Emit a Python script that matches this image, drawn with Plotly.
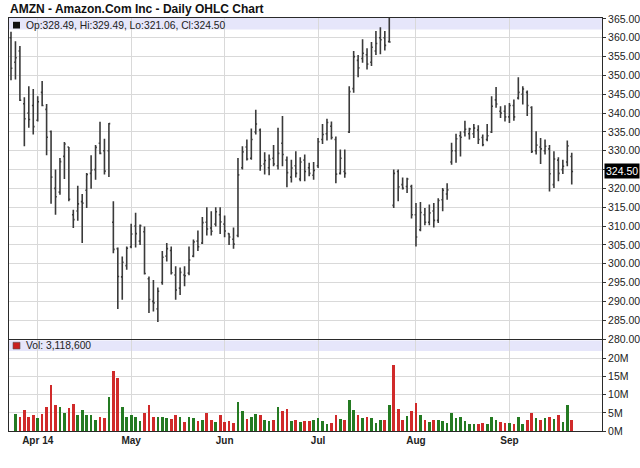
import pandas as pd
import plotly.graph_objects as go
from plotly.subplots import make_subplots

# ---------------- data ----------------
holidays = ["2014-04-18", "2014-05-26", "2014-07-04", "2014-09-01"]
dates = [d.strftime("%Y-%m-%d") for d in pd.bdate_range("2014-03-24", "2014-09-22")
         if d.strftime("%Y-%m-%d") not in holidays]

opens = [360.0, 353.5, 356.5, 342.5, 340.0, 342.0, 338.1, 345.5, 341.0, 335.1,
         320.0, 319.0, 328.5, 331.0, 313.0, 314.0, 316.5, 319.5, 324.0, 325.0,
         332.0, 330.0, 330.0, 311.0, 304.0, 296.5, 299.5, 304.5, 310.0, 306.0,
         308.5, 296.0, 290.0, 288.0, 295.0, 302.0, 303.5, 297.0, 293.5, 297.0,
         297.5, 302.0, 306.0, 305.5, 311.0, 309.5, 310.5, 313.0, 310.5, 308.0,
         306.5, 307.5, 325.5, 331.0, 328.0, 335.0, 335.5, 326.5, 325.5, 328.0,
         326.0, 332.0, 327.5, 323.0, 326.0, 322.5, 327.5, 325.5, 323.5, 326.0,
         333.0, 334.5, 336.5, 333.0, 324.0, 324.5, 335.0, 346.5, 354.0, 354.5,
         355.5, 353.5, 356.5, 360.0, 360.0, 359.0, 315.5, 324.5, 321.0, 320.5,
         320.5, 313.0, 309.0, 313.0, 311.0, 314.0, 311.5, 317.0, 318.5, 327.0,
         330.0, 334.0, 335.0, 334.5, 334.5, 335.5, 333.5, 333.0, 335.0, 343.5,
         340.5, 340.5, 339.0, 342.0, 344.0, 345.0, 345.5, 341.5, 330.0, 331.0,
         330.0, 330.5, 321.0, 327.5, 325.0, 327.0, 328.49]
highs = [361.6, 359.1, 357.8, 344.2, 347.1, 346.4, 344.5, 348.5, 342.4, 335.4,
         325.0, 328.1, 332.3, 331.0, 314.3, 320.7, 318.5, 324.1, 328.8, 331.5,
         337.7, 333.2, 337.4, 316.6, 304.3, 301.9, 304.6, 310.6, 313.5, 310.4,
         309.9, 296.6, 295.7, 293.7, 303.4, 305.5, 304.6, 299.3, 299.0, 299.3,
         304.6, 306.4, 308.8, 312.4, 315.0, 313.9, 315.0, 315.0, 312.8, 308.1,
         309.6, 328.1, 331.2, 333.0, 335.9, 340.9, 335.9, 329.6, 329.0, 331.5,
         336.1, 339.2, 328.5, 327.6, 329.9, 328.3, 329.0, 326.8, 327.0, 333.4,
         337.1, 338.5, 337.8, 333.8, 330.3, 330.3, 347.1, 356.5, 355.4, 359.6,
         357.2, 358.9, 361.8, 362.8, 361.8, 366.0, 325.0, 325.0, 322.9, 322.8,
         321.0, 316.1, 316.4, 314.8, 315.7, 316.1, 317.4, 320.1, 321.4, 332.1,
         334.5, 335.2, 338.0, 336.1, 337.1, 336.8, 334.3, 337.1, 344.5, 346.9,
         341.8, 342.1, 342.7, 343.6, 349.5, 347.1, 346.0, 341.8, 335.2, 333.4,
         333.0, 331.5, 329.9, 328.3, 327.6, 332.7, 329.49]
lows = [348.7, 348.9, 343.2, 331.2, 336.1, 334.3, 337.8, 341.8, 328.8, 315.9,
        313.0, 318.3, 322.5, 316.6, 309.5, 311.4, 305.5, 314.8, 319.9, 322.3,
        329.1, 323.7, 323.0, 302.8, 288.0, 290.4, 298.4, 304.1, 304.3, 305.0,
        297.1, 286.9, 287.3, 284.5, 294.4, 300.6, 297.1, 290.4, 291.7, 294.0,
        296.9, 301.7, 303.4, 305.2, 307.5, 307.5, 309.9, 307.9, 307.0, 305.0,
        304.0, 307.0, 325.0, 327.4, 327.6, 334.3, 324.7, 323.7, 323.5, 325.9,
        325.0, 325.9, 320.3, 321.6, 322.9, 321.9, 321.9, 323.2, 322.3, 325.4,
        331.8, 332.7, 333.0, 321.4, 323.7, 322.8, 334.7, 345.4, 349.5, 353.4,
        351.6, 352.5, 355.4, 355.6, 356.6, 358.7, 314.8, 316.6, 319.7, 318.8,
        312.0, 304.6, 308.6, 310.2, 310.2, 309.6, 310.8, 313.9, 317.0, 326.3,
        326.8, 328.5, 333.8, 333.0, 333.4, 331.8, 331.2, 332.5, 334.7, 341.4,
        338.7, 337.8, 337.4, 338.0, 343.6, 342.3, 339.2, 329.4, 329.0, 326.5,
        329.0, 319.2, 320.1, 321.9, 323.8, 325.9, 321.06]
closes = [351.9, 354.7, 343.4, 338.5, 338.3, 336.4, 343.0, 342.0, 333.6, 323.0,
          317.8, 327.1, 331.8, 317.1, 311.7, 315.9, 316.1, 323.7, 324.9, 330.9,
          329.3, 324.6, 337.2, 303.8, 296.6, 300.4, 304.1, 307.9, 308.0, 310.1,
          297.4, 290.5, 289.6, 292.7, 301.7, 304.0, 297.6, 293.0, 297.7, 296.8,
          301.0, 305.8, 304.5, 310.9, 309.2, 308.6, 313.8, 311.1, 308.7, 307.1,
          305.2, 323.6, 329.7, 327.8, 333.0, 337.1, 326.0, 327.4, 327.7, 326.5,
          329.3, 329.0, 324.2, 325.4, 324.0, 327.0, 324.5, 324.0, 324.8, 332.4,
          334.3, 337.5, 333.5, 323.8, 328.0, 324.0, 345.7, 355.0, 352.0, 355.9,
          353.0, 357.5, 358.5, 359.5, 358.0, 358.9, 324.0, 320.4, 320.0, 322.5,
          313.0, 307.1, 313.6, 311.0, 313.5, 311.5, 316.8, 319.5, 319.6, 330.0,
          333.2, 333.6, 335.7, 335.8, 336.0, 333.0, 331.6, 334.0, 341.8, 342.4,
          340.0, 339.0, 342.0, 339.0, 345.5, 346.4, 342.0, 329.8, 331.5, 330.5,
          331.2, 323.9, 327.8, 324.0, 325.9, 331.3, 324.50]
volume_m = [None, 4.6, 4.0, 5.9, 4.0, 4.3, 3.7, 4.6, 6.6, 12.6,
            7.1, 6.6, 5.1, 6.4, 7.4, 4.3, 5.7, 4.3, 4.3, 3.1,
            3.8, 3.7, 9.4, 16.5, 14.6, 6.6, 4.0, 4.3, 4.0, 2.7,
            5.0, 7.1, 3.8, 4.0, 3.8, 3.6, 3.4, 4.3, 3.8, 2.5,
            4.0, 3.7, 2.8, 3.1, 5.0, 2.9, 2.4, 4.3, 2.5, 2.7,
            2.2, 8.0, 5.5, 3.4, 3.8, 4.6, 4.3, 2.9, 2.8, 3.1,
            6.6, 5.5, 6.2, 2.8, 2.9, 2.4, 2.8, 2.8, 2.9, 3.7,
            2.8, 2.0, 2.3, 4.3, 3.4, 2.9, 8.6, 5.7, 4.3, 3.6,
            3.8, 3.6, 2.3, 3.1, 2.9, 7.1, 18.1, 6.2, 3.1, 4.1,
            5.5, 7.7, 4.3, 2.9, 2.5, 3.1, 2.9, 2.7, 2.2, 5.1,
            3.7, 4.0, 2.7, 1.9, 1.9, 2.0, 2.3, 2.0, 3.8, 3.1,
            2.5, 2.2, 2.3, 2.0, 4.0, 2.0, 3.1, 5.0, 3.7, 2.9,
            3.6, 4.0, 3.4, 4.3, 2.5, 7.1, 3.1186]
month_labels = ["Apr 14", "May", "Jun", "Jul", "Aug", "Sep"]
price_ticks = list(range(280, 366, 5))
vol_ticks_m = [0, 5, 10, 15, 20]
last_volume_text = "3,118,600"

# ---------------- derived ----------------
volume = [None if v is None else v * 1e6 for v in volume_m]
UP, DOWN = "#247a22", "#d02a2a"
vol_colors = [UP] + [UP if closes[i] >= closes[i - 1] else DOWN for i in range(1, len(closes))]
month_ticks = []
seen = set()
for d in dates:
    m = d[:7]
    if m not in seen:
        seen.add(m)
        if m != "2014-03":
            month_ticks.append(d)
last_close = closes[-1]
# the last-close marker box covers the nearest price label
price_ticktext = ["" if abs(v - last_close) < 2.5 else f"{v:.2f}" for v in price_ticks]

FONT = "Liberation Sans, Arial, sans-serif"
W, H = 640, 468
L, R, T, B = 9, 38, 18, 37
plot_h = H - T - B  # 413
plot_w = W - L - R  # 593

def py(pix):  # pixel y -> paper y
    return (H - B - pix) / plot_h

def px(pix):  # pixel x -> paper x
    return (pix - L) / plot_w

fig = make_subplots(rows=2, cols=1, shared_xaxes=True, vertical_spacing=0)

fig.add_trace(go.Ohlc(x=dates, open=opens, high=highs, low=lows, close=closes,
                      increasing=dict(line=dict(color="#3a3a3a", width=1.6)),
                      decreasing=dict(line=dict(color="#3a3a3a", width=1.6)),
                      tickwidth=0.3, showlegend=False, hoverinfo="skip"),
              row=1, col=1)
fig.add_trace(go.Bar(x=dates, y=volume, marker=dict(color=vol_colors, line=dict(width=0)),
                     width=0.6, showlegend=False, hoverinfo="skip"),
              row=2, col=1)

n = len(dates)
xr = [-0.45, n + 5.8]
axis_common = dict(showline=True, mirror=True, linecolor="#2a2a2a", linewidth=1,
                   gridcolor="#d9d9d9", gridwidth=1, zeroline=False, automargin=False)
fig.update_xaxes(type="category", range=xr, tickmode="array", tickvals=month_ticks,
                 ticktext=[f"<b>{t}</b>" for t in month_labels], showgrid=True, ticks="",
                 rangeslider_visible=False, **axis_common)
fig.update_xaxes(showticklabels=False, row=1, col=1)
fig.update_xaxes(tickfont=dict(family=FONT, size=10, color="#222"), row=2, col=1)

fig.update_yaxes(side="right", ticks="outside", ticklen=3, tickcolor="#333",
                 tickfont=dict(family=FONT, size=10.5, color="#222"), showgrid=True,
                 **axis_common)
fig.update_yaxes(domain=[py(339), 1.0], range=[280, 280 + 321 / 3.765],
                 tickmode="array", tickvals=price_ticks,
                 ticktext=price_ticktext, row=1, col=1)
fig.update_yaxes(domain=[0.0, py(340)], range=[0, 25.1e6],
                 tickmode="array", tickvals=[v * 1e6 for v in vol_ticks_m],
                 ticktext=[f"{v}M" for v in vol_ticks_m], row=2, col=1)

shapes = [
    dict(type="rect", xref="paper", yref="paper", x0=0, x1=1, y0=py(29.5), y1=1.0,
         fillcolor="#e6e6fa", line=dict(width=0), layer="below"),
    dict(type="rect", xref="paper", yref="paper", x0=0, x1=1, y0=py(351), y1=py(340.5),
         fillcolor="#e6e6fa", line=dict(width=0), layer="below"),
    dict(type="rect", xref="paper", yref="paper", x0=px(13), x1=px(20), y0=py(28.5), y1=py(21.8),
         fillcolor="#111111", line=dict(width=0)),
    dict(type="rect", xref="paper", yref="paper", x0=px(13), x1=px(20), y0=py(349), y1=py(342.3),
         fillcolor="#c8201e", line=dict(width=0.6, color="#555")),
]

ohlc_text = f"Op:{opens[-1]:.2f}, Hi:{highs[-1]:.2f}, Lo:{lows[-1]:.2f}, Cl:{closes[-1]:.2f}"
annotations = [
    dict(text=ohlc_text, xref="paper", yref="paper", x=px(23.5), y=py(25.3),
         xanchor="left", yanchor="middle", showarrow=False,
         font=dict(family=FONT, size=10.3, color="#222")),
    dict(text=f"Vol: {last_volume_text}", xref="paper", yref="paper", x=px(23.5), y=py(345.8),
         xanchor="left", yanchor="middle", showarrow=False,
         font=dict(family=FONT, size=10.3, color="#222")),
    dict(text=f"{last_close:.2f}", xref="paper", yref="y", x=1.0, xshift=2, y=last_close,
         xanchor="left", yanchor="middle", showarrow=False, bgcolor="#000000",
         borderpad=1, font=dict(family=FONT, size=10.5, color="#ffffff")),
]

fig.update_layout(
    template="none",
    width=W, height=H, autosize=False,
    margin=dict(l=L, r=R, t=T, b=B),
    paper_bgcolor="white", plot_bgcolor="white",
    title=dict(text="<b>AMZN - Amazon.Com Inc - Daily OHLC Chart</b>",
               xref="container", yref="container", x=10 / W, y=1 - 8.5 / H,
               xanchor="left", yanchor="middle",
               font=dict(family=FONT, size=12, color="#111")),
    shapes=shapes, annotations=annotations, bargap=0,
)

fig.write_html("out.html", config={"displayModeBar": False},
               post_script="document.body.style.margin='0';document.body.style.overflow='hidden';")
